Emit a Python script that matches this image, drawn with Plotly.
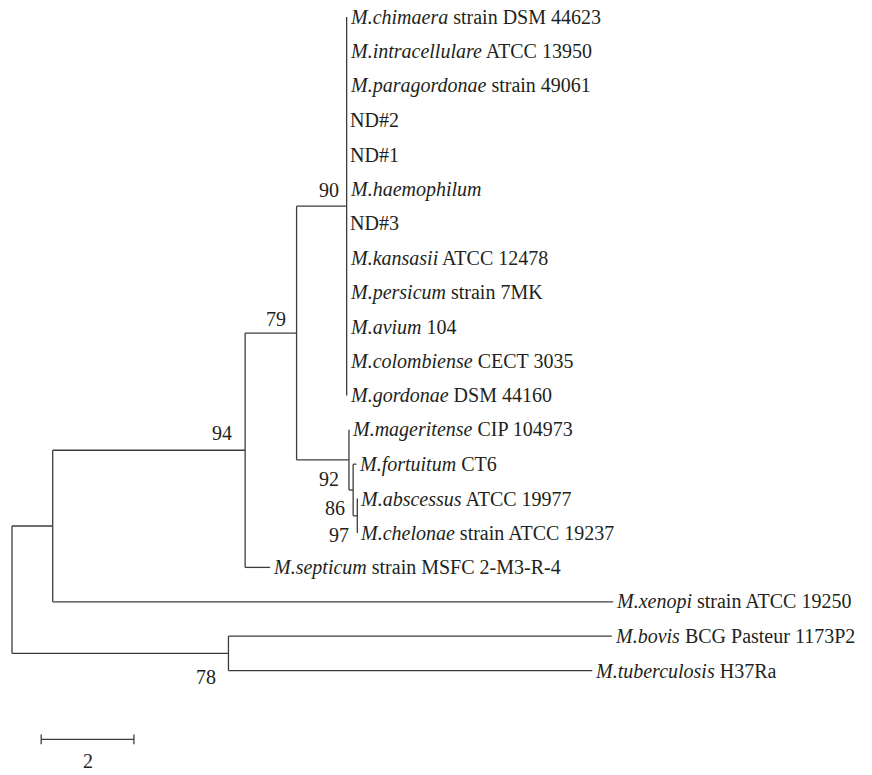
import plotly.graph_objects as go

# ---------------- data ----------------
# leaves, top to bottom
leaf_species = ["M.chimaera", "M.intracellulare", "M.paragordonae", None, None,
                "M.haemophilum", None, "M.kansasii", "M.persicum", "M.avium",
                "M.colombiense", "M.gordonae", "M.mageritense", "M.fortuitum",
                "M.abscessus", "M.chelonae", "M.septicum", "M.xenopi",
                "M.bovis", "M.tuberculosis"]
leaf_suffix = ["strain DSM 44623", "ATCC 13950", "strain 49061", "ND#2", "ND#1",
               "", "ND#3", "ATCC 12478", "strain 7MK", "104",
               "CECT 3035", "DSM 44160", "CIP 104973", "CT6",
               "ATCC 19977", "strain ATCC 19237", "strain MSFC 2-M3-R-4", "strain ATCC 19250",
               "BCG Pasteur 1173P2", "H37Ra"]
leaf_parent = ["N90"] * 12 + ["C", "X", "Y", "Y", "N94", "A", "B", "B"]
# distance from root (in scale units)
leaf_depth = [7.22] * 12 + [7.27, 7.43, 7.45, 7.45, 5.57, 12.97, 12.94, 12.52]

# internal nodes
node_names = ["root", "A", "B", "N94", "N79", "N90", "C", "X", "Y"]
node_parent = [None, "root", "root", "A", "N94", "N79", "N79", "C", "X"]
node_depth = [0.0, 0.878, 4.67, 5.03, 6.14, 7.22, 7.27, 7.36, 7.45]
node_bootstrap = [None, None, 78, 94, 79, 90, 92, 86, 97]

scale_value = 2

# ---------------- style / placement ----------------
LINE = "#3c3c3c"
TXT = "#231f20"
FONT = "Liberation Serif"
FS = 20
# bootstrap label offsets in px: (x shift of right edge, y shift of centre, + = up)
boot_offset = {"B": (-10, -24), "N94": (-11, 17), "N79": (-9, 14), "N90": (-6, 16),
               "C": (-8, -19), "X": (-6, -18), "Y": (-6, -19)}
scale_bar_x0 = 0.63
scale_bar_row = 21.0

# page geometry (browser body has an 8px margin)
W, H, PAD = 872, 775, 8
PX_PER_UNIT, PX_PER_ROW = 46.35, 34.4
ROOT_X, TOP_Y = 12, 17

# ---------------- layout of the tree ----------------
depth = {n: d for n, d in zip(node_names, node_depth)}
parent = {n: p for n, p in zip(node_names, node_parent)}
row = {}
children = {n: [] for n in node_names}
for i, (p, d) in enumerate(zip(leaf_parent, leaf_depth)):
    key = f"leaf{i}"
    depth[key] = d
    parent[key] = p
    row[key] = float(i)
    children[p].append(key)
for n, p in zip(node_names, node_parent):
    if p is not None:
        children[p].append(n)


def get_row(n):
    if n in row:
        return row[n]
    ys = [get_row(c) for c in children[n]]
    row[n] = (min(ys) + max(ys)) / 2
    return row[n]


for n in node_names:
    get_row(n)

xs, ys = [], []
for n, p in parent.items():
    if p is None:
        continue
    xs += [depth[p], depth[n], None]
    ys += [row[n], row[n], None]
for n in node_names:
    cy = [row[c] for c in children[n]]
    xs += [depth[n], depth[n], None]
    ys += [min(cy), max(cy), None]

fig = go.Figure()
fig.add_trace(go.Scatter(x=xs, y=ys, mode="lines",
                         line=dict(color=LINE, width=1.3), hoverinfo="skip",
                         showlegend=False))

# scale bar
tick = 0.14
sx = [scale_bar_x0, scale_bar_x0 + scale_value, None,
      scale_bar_x0, scale_bar_x0, None,
      scale_bar_x0 + scale_value, scale_bar_x0 + scale_value]
sy = [scale_bar_row, scale_bar_row, None,
      scale_bar_row - tick, scale_bar_row + tick, None,
      scale_bar_row - tick, scale_bar_row + tick]
fig.add_trace(go.Scatter(x=sx, y=sy, mode="lines",
                         line=dict(color=LINE, width=1.3), hoverinfo="skip",
                         showlegend=False))

ann = []
for i, (sp, sfx) in enumerate(zip(leaf_species, leaf_suffix)):
    key = f"leaf{i}"
    if sp:
        txt = f"<i>{sp}</i>" + (f" {sfx}" if sfx else "")
    else:
        txt = sfx
    ann.append(dict(x=depth[key], y=row[key], text=txt, showarrow=False,
                    xanchor="left", yanchor="middle", xshift=2, borderpad=0,
                    font=dict(family=FONT, size=FS, color=TXT)))

for n, b in zip(node_names, node_bootstrap):
    if b is None:
        continue
    dx, dy = boot_offset[n]
    ann.append(dict(x=depth[n], y=row[n], text=str(b), showarrow=False,
                    xanchor="right", yanchor="middle", xshift=dx, yshift=dy,
                    font=dict(family=FONT, size=FS, color=TXT)))

ann.append(dict(x=scale_bar_x0 + scale_value / 2, y=scale_bar_row, text=str(scale_value),
                showarrow=False, xanchor="center", yanchor="middle", yshift=-22,
                font=dict(family=FONT, size=FS, color=TXT)))

fig.update_layout(
    width=W - PAD, height=H - PAD,
    margin=dict(l=0, r=0, t=0, b=0),
    paper_bgcolor="white", plot_bgcolor="white",
    xaxis=dict(range=[(PAD - ROOT_X) / PX_PER_UNIT, (W - ROOT_X) / PX_PER_UNIT],
               visible=False, fixedrange=True),
    yaxis=dict(range=[(H - TOP_Y) / PX_PER_ROW, (PAD - TOP_Y) / PX_PER_ROW],
               visible=False, fixedrange=True),
    annotations=ann,
    showlegend=False,
)

fig.write_html("out.html")
